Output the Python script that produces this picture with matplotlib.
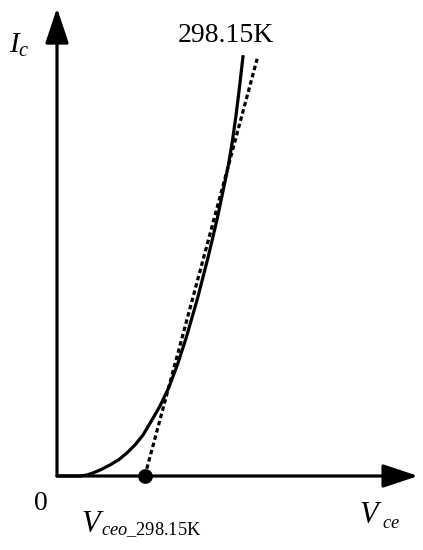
import matplotlib
matplotlib.use("Agg")
import matplotlib.pyplot as plt

# Data (Vce and Ic in arbitrary units)
vce_curve = [0.0, 0.36, 0.64, 0.83, 1.0, 1.22, 1.47, 1.72, 1.94, 2.17, 2.39, 2.67, 2.86, 3.10,
             3.36, 3.60, 3.90, 4.20, 4.45, 4.75, 4.86, 4.97, 5.06, 5.12, 5.17]
ic_curve = [0.0, 0.0, 0.0, 0.025, 0.075, 0.16, 0.275, 0.41, 0.575, 0.78, 1.025, 1.45, 1.75, 2.20,
            2.82, 3.49, 4.43, 5.48, 6.43, 7.72, 8.30, 9.00, 9.65, 10.12, 10.52]
vceo = 2.44          # intercept of the tangent line with the Vce axis
tangent_ic_end = 10.43
tangent_vce_end = 5.56
x_axis_end = 10.03
y_axis_end = 11.7

plt.rcParams['mathtext.fontset'] = 'custom'
plt.rcParams['mathtext.rm'] = 'Liberation Serif'
plt.rcParams['mathtext.it'] = 'Liberation Serif:italic'
plt.rcParams['font.family'] = 'Liberation Serif'

fig = plt.figure(figsize=(4.23, 5.5), dpi=100)
ax = fig.add_axes([0, 0, 1, 1])
ax.set_xlim(-57/36, (423-57)/36)
ax.set_ylim(-(550-476)/40, 476/40)
ax.axis('off')

lw = 2.3
arrow_style = '-|>,head_length=1.5,head_width=0.5'
ax.annotate('', xy=(x_axis_end, 0), xytext=(0, 0),
            arrowprops=dict(arrowstyle=arrow_style, mutation_scale=14.4, lw=lw,
                            color='black', shrinkA=0, shrinkB=0))
ax.annotate('', xy=(0, y_axis_end), xytext=(0, 0),
            arrowprops=dict(arrowstyle=arrow_style, mutation_scale=14.4, lw=lw,
                            color='black', shrinkA=0, shrinkB=0))

# characteristic curve
ax.plot(vce_curve, ic_curve, color='black', lw=lw, solid_joinstyle='round',
        solid_capstyle='butt')
# tangent (dotted)
ax.plot([vceo, tangent_vce_end], [0, tangent_ic_end], color='black', lw=lw,
        linestyle=(0, (1.4, 0.95)), dash_capstyle='butt')
# intercept point
ax.plot([vceo], [0], 'o', color='black', markersize=9.6)

# labels
ax.text(-1.06, 10.57, r'$I_c$', fontsize=21, ha='center', va='baseline')
ax.text(4.7, 11.0, '298.15K', fontsize=20, ha='center', va='center')
ax.text(-0.45, -0.7, '0', fontsize=20, ha='center', va='center')

# V_ceo_298.15K
ax.text(0.66, -1.40, r'$V$', fontsize=22, ha='left', va='baseline')
ax.text(1.22, -1.48, r'$ceo\_\mathrm{298.15K}$', fontsize=13.2, ha='left', va='baseline')
# V_ce
ax.text(8.40, -1.18, r'$V$', fontsize=22, ha='left', va='baseline')
ax.text(9.02, -1.30, r'$ce$', fontsize=13.2, ha='left', va='baseline')

fig.savefig('out.png', dpi=100)
